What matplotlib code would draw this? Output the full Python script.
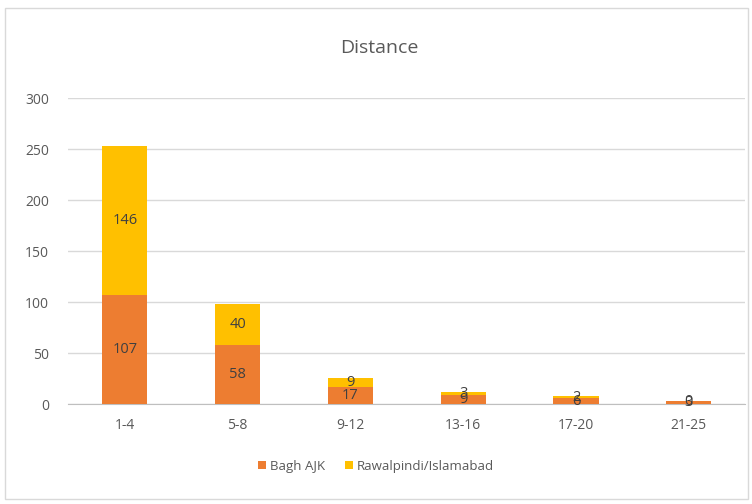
import numpy as np
import matplotlib
matplotlib.use('Agg')
from matplotlib import pyplot as plt
from matplotlib.patches import Rectangle

categories = ['1-4', '5-8', '9-12', '13-16', '17-20', '21-25']
bagh = [107, 58, 17, 9, 6, 3]
rawalpindi = [146, 40, 9, 3, 2, 0]
yticks = [0, 50, 100, 150, 200, 250, 300]

plt.rcParams['font.family'] = ['Open Sans', 'DejaVu Sans']

fig = plt.figure(figsize=(7.52, 5.04), dpi=100)
fig.patches.append(Rectangle((0.007, 0.01), 0.988, 0.975, transform=fig.transFigure,
                             fill=False, edgecolor='#D9D9D9', linewidth=1))
ax = fig.add_axes([0.091, 0.198, 0.900, 0.607])

x = np.arange(len(categories))
w = 0.4
b1 = ax.bar(x, bagh, w, color='#ED7D31', label='Bagh AJK', zorder=3)
b2 = ax.bar(x, rawalpindi, w, bottom=bagh, color='#FFC000', label='Rawalpindi/Islamabad', zorder=3)

for i in range(len(categories)):
    ax.text(x[i], bagh[i] / 2, str(bagh[i]), ha='center', va='center', fontsize=10.5, color='#404040', zorder=4)
    ax.text(x[i], bagh[i] + rawalpindi[i] / 2, str(rawalpindi[i]), ha='center', va='center',
            fontsize=10.5, color='#404040', zorder=4)

ax.set_xlim(-0.5, len(categories) - 0.5)
ax.set_ylim(0, 300)
ax.set_yticks(yticks)
ax.set_xticks(x)
ax.set_xticklabels(categories)
ax.tick_params(axis='both', length=0, labelsize=10, labelcolor='#595959')
ax.tick_params(axis='x', pad=10)
ax.tick_params(axis='y', pad=14)
ax.grid(axis='y', color='#D9D9D9', linewidth=1, zorder=0)
for s in ['top', 'right', 'left']:
    ax.spines[s].set_visible(False)
ax.spines['bottom'].set_color('#BFBFBF')

fig.text(0.505, 0.905, 'Distance', ha='center', va='center', fontsize=14, color='#595959')

fig.legend(handles=[b1, b2], loc='center', bbox_to_anchor=(0.5, 0.075), ncol=2, frameon=False,
           fontsize=9.5, handlelength=0.6, handleheight=0.6, handletextpad=0.3, columnspacing=1.5,
           labelcolor='#595959')

fig.savefig('out.png', dpi=100)
